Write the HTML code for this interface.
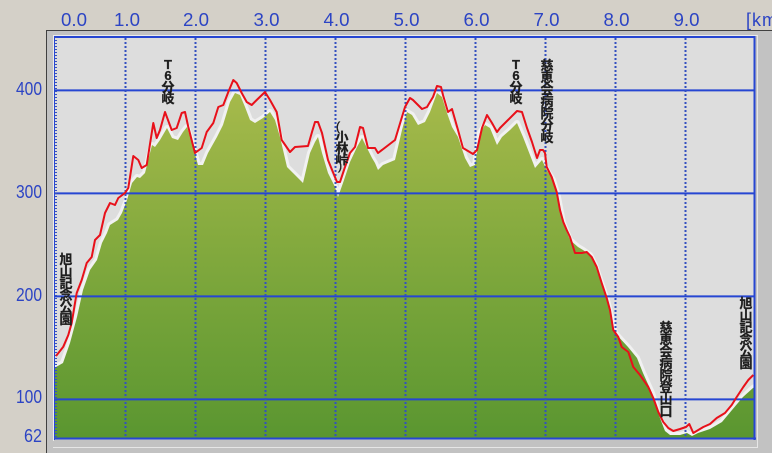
<!DOCTYPE html>
<html><head><meta charset="utf-8"><style>
html,body{margin:0;padding:0;background:#d4d0c8;}
svg{display:block;}
.ax{font-family:"Liberation Sans",sans-serif;font-size:18px;fill:#2c44c4;}
.lb{font-family:"Liberation Sans","Noto Sans CJK JP",sans-serif;font-size:13px;font-weight:bold;fill:#1e1e1e;stroke:#1e1e1e;stroke-width:0.3;text-anchor:middle;}
</style></head><body>
<svg width="772" height="453" viewBox="0 0 772 453" xmlns="http://www.w3.org/2000/svg">
<defs>
<linearGradient id="g" gradientUnits="userSpaceOnUse" x1="0" y1="80" x2="0" y2="439">
<stop offset="0" stop-color="#a9bb4c"/>
<stop offset="0.45" stop-color="#84aa3e"/>
<stop offset="1" stop-color="#5a9630"/>
</linearGradient>
<clipPath id="pc"><rect x="55" y="37" width="700" height="402"/></clipPath>
<path id="gp" d="M55,367 L56,367 L63,363 L70,343 L77,317 L83,290 L90,270 L97,260 L102,243 L107,233 L110,225 L118,220 L122,213 L127,200 L132,183 L137,177 L140,178 L145,173 L152,145 L155,147 L160,140 L167,128 L172,138 L178,140 L183,132 L187,127 L192,143 L198,165 L203,165 L208,153 L217,137 L223,125 L230,102 L235,93 L240,95 L245,107 L250,120 L255,123 L263,118 L270,112 L275,120 L280,137 L287,167 L293,173 L295,175 L303,183 L310,153 L315,142 L318,137 L322,153 L328,173 L335,187 L338,197 L343,183 L350,162 L357,147 L362,138 L367,148 L372,158 L375,163 L378,170 L383,165 L395,160 L402,130 L407,112 L412,115 L418,125 L425,122 L430,112 L437,93 L442,97 L447,113 L452,127 L458,137 L465,158 L470,167 L475,165 L480,133 L485,125 L490,128 L497,145 L502,137 L510,130 L517,123 L523,137 L530,155 L535,168 L542,160 L546.7,170 L553,180 L558,197 L563,223 L570,240 L578,247 L583,250 L590,255 L595,265 L607,300 L615,333 L628,347 L637,358 L643,373 L652,393 L658,413 L665,431 L670,435 L680,435 L687,433 L692,436 L698,433 L710,429 L722,422 L732,410 L743,397 L753,388 L756,386 L756,440 L55,440 Z"/>
</defs>
<rect width="772" height="453" fill="#d4d0c8"/>
<rect x="46" y="30" width="726" height="423" fill="#c2c2c2"/>
<line x1="46" y1="30.5" x2="772" y2="30.5" stroke="#404040" stroke-width="1"/>
<line x1="46.5" y1="30" x2="46.5" y2="453" stroke="#404040" stroke-width="1"/>
<line x1="757.5" y1="35" x2="757.5" y2="448" stroke="#e6e6e6" stroke-width="1"/>
<line x1="53" y1="447.5" x2="758" y2="447.5" stroke="#e6e6e6" stroke-width="1"/>
<line x1="53" y1="35.5" x2="757" y2="35.5" stroke="#ececec" stroke-width="1"/>
<line x1="53.5" y1="35" x2="53.5" y2="441" stroke="#ececec" stroke-width="1"/>
<rect x="54" y="36" width="701" height="403" fill="#dddddd"/>
<g clip-path="url(#pc)">
<use href="#gp" fill="none" stroke="#f1f1f1" stroke-width="6" stroke-linejoin="round"/>
<use href="#gp" fill="url(#g)" stroke="none"/>
</g>
<g stroke="#2646d2" stroke-width="2">
<line x1="54" y1="90.4" x2="755" y2="90.4"/>
<line x1="54" y1="193.4" x2="755" y2="193.4"/>
<line x1="54" y1="296.4" x2="755" y2="296.4"/>
<line x1="54" y1="399.4" x2="755" y2="399.4"/>
</g>
<g stroke="#3450c0" stroke-width="2" stroke-dasharray="2 2">
<line x1="125.5" y1="38" x2="125.5" y2="438"/>
<line x1="195.5" y1="38" x2="195.5" y2="438"/>
<line x1="265.5" y1="38" x2="265.5" y2="438"/>
<line x1="335.5" y1="38" x2="335.5" y2="438"/>
<line x1="405.5" y1="38" x2="405.5" y2="438"/>
<line x1="475.5" y1="38" x2="475.5" y2="438"/>
<line x1="545.5" y1="38" x2="545.5" y2="438"/>
<line x1="615.5" y1="38" x2="615.5" y2="438"/>
<line x1="685.5" y1="38" x2="685.5" y2="438"/>
</g>
<line x1="54" y1="37" x2="755" y2="37" stroke="#2646d2" stroke-width="2"/>
<line x1="54" y1="438.5" x2="756" y2="438.5" stroke="#2646d2" stroke-width="2"/>
<line x1="754.5" y1="36" x2="754.5" y2="440" stroke="#2646d2" stroke-width="2"/>
<line x1="54.5" y1="36" x2="54.5" y2="440" stroke="#2646d2" stroke-width="1"/>
<line x1="56" y1="37" x2="56" y2="439" stroke="#3450c0" stroke-width="2" stroke-dasharray="1 2"/>
<polyline fill="none" stroke="#e8101a" stroke-width="2" stroke-linejoin="round" points="56,356 63.3,346.7 68.3,335 71.7,323 75,303 76.7,293 81.7,280 86.7,263 91.7,257 95,240 100,235 105,213 110,203 115,205 118.3,198 125,193 128.3,188 133.3,156 138.3,160 141.7,168 146.7,165 153.3,123 156.7,138 160,130 165,112 171.7,130 176.7,128 181.7,113 185,112 188.3,127 195,153 201.7,148 206.7,132 213.3,123 218.3,107 223.3,105 228.3,92 233.3,80 236.7,83 241.7,93 246.7,102 251.7,105 256.7,100 265,92 270,100 276.7,112 281.7,140 290,152 295,147 308,146 312,132 315,122 318,122 322,133 328,160 337,182 340,182 345,167 350,153 355,147 360,127 363,128 368,148 375,148 378,153 395,140 405,107 410,98 413,100 422,109 427,107 433,97 437,86 441,87 443,95 448,112 452,109 458,130 463,148 468,151 473,154 477,150 482,128 487,115 492,123 497,132 500,128 508,120 517,111 522,112 527,128 532,142 537,158 540,150 543,150 545,153 546.7,167 551.7,177 556.7,192 560,210 563.3,222 566.7,230 570,237 575,253 581.7,253 586.7,252 591.7,257 596.7,267 601.7,283 606.7,298 610,310 613.3,330 618.3,337 621.7,347 628.3,352 633.3,367 640,375 648.3,387 653.3,398 658.3,412 663.3,422 668.3,428 673.3,431 680,429 686,427 689.3,424 693.3,433 698.3,430 703.3,427 710,424 716.7,418 725,413 731.7,405 736.7,397 743.3,387 748.3,380 753.3,375"/>
<g class="ax" text-anchor="middle">
<text x="74" y="26" textLength="26" lengthAdjust="spacingAndGlyphs">0.0</text>
<text x="127" y="26" textLength="26" lengthAdjust="spacingAndGlyphs">1.0</text>
<text x="196" y="26" textLength="26" lengthAdjust="spacingAndGlyphs">2.0</text>
<text x="266.5" y="26" textLength="26" lengthAdjust="spacingAndGlyphs">3.0</text>
<text x="336.5" y="26" textLength="26" lengthAdjust="spacingAndGlyphs">4.0</text>
<text x="406.5" y="26" textLength="26" lengthAdjust="spacingAndGlyphs">5.0</text>
<text x="476.5" y="26" textLength="26" lengthAdjust="spacingAndGlyphs">6.0</text>
<text x="546.5" y="26" textLength="26" lengthAdjust="spacingAndGlyphs">7.0</text>
<text x="616.5" y="26" textLength="26" lengthAdjust="spacingAndGlyphs">8.0</text>
<text x="686.5" y="26" textLength="26" lengthAdjust="spacingAndGlyphs">9.0</text>
</g>
<text class="ax" x="746" y="26" letter-spacing="1">[km]</text>
<g class="ax" text-anchor="end">
<text x="42" y="95" textLength="26" lengthAdjust="spacingAndGlyphs">400</text>
<text x="42" y="198" textLength="26" lengthAdjust="spacingAndGlyphs">300</text>
<text x="42" y="301" textLength="26" lengthAdjust="spacingAndGlyphs">200</text>
<text x="42" y="403" textLength="26" lengthAdjust="spacingAndGlyphs">100</text>
<text x="42" y="442" textLength="18" lengthAdjust="spacingAndGlyphs">62</text>
</g>
<g class="lb">
<text x="66" y="264">旭</text><text x="66" y="276">山</text><text x="66" y="288">記</text><text x="66" y="300">念</text><text x="66" y="312">公</text><text x="66" y="324">園</text>
<text x="168" y="69">T</text><text x="168" y="80">6</text><text x="168" y="92">分</text><text x="168" y="103">岐</text>
<text x="338" y="131" style="font-weight:normal">(</text><text x="342" y="142">小</text><text x="342" y="153">林</text><text x="342" y="164">峠</text><text x="340" y="170" style="font-weight:normal">)</text>
<text x="516" y="69">T</text><text x="516" y="80">6</text><text x="516" y="92">分</text><text x="516" y="103">岐</text>
<text x="547" y="70">慈</text><text x="547" y="82">恵</text><text x="547" y="94">会</text><text x="547" y="106">病</text><text x="547" y="118">院</text><text x="547" y="130">分</text><text x="547" y="142">岐</text>
<text x="666" y="332">慈</text><text x="666" y="344">恵</text><text x="666" y="356">会</text><text x="666" y="368">病</text><text x="666" y="380">院</text><text x="666" y="392">登</text><text x="666" y="404">山</text><text x="666" y="416">口</text>
<text x="746" y="308">旭</text><text x="746" y="320">山</text><text x="746" y="332">記</text><text x="746" y="344">念</text><text x="746" y="356">公</text><text x="746" y="368">園</text>
</g>
</svg>
</body></html>
